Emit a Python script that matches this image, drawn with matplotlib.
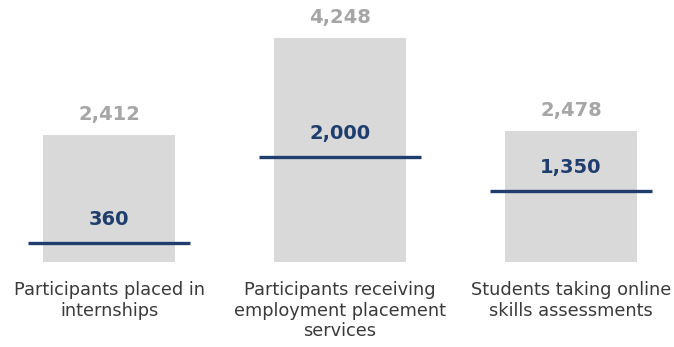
import matplotlib.pyplot as plt

# program results vs. targets
categories = ["Participants placed in\ninternships",
              "Participants receiving\nemployment placement\nservices",
              "Students taking online\nskills assessments"]
actuals = [2412, 4248, 2478]
targets = [360, 2000, 1350]

BAR_COLOR = "#d9d9d9"
LINE_COLOR = "#1f3e6e"
ACTUAL_TEXT = "#a6a6a6"
LABEL_TEXT = "#3a3a3a"

plt.rcParams['font.family'] = ['DejaVu Sans']

fig = plt.figure(figsize=(6.74, 3.47), dpi=100)
ax = fig.add_axes([0, 85 / 347, 1, 262 / 347])

x = list(range(len(categories)))
ax.bar(x, actuals, width=0.571, color=BAR_COLOR, zorder=1)
ax.hlines(targets, [i - 0.35 for i in x], [i + 0.35 for i in x],
          color=LINE_COLOR, linewidth=2.4, zorder=2)

for i, (a, t) in enumerate(zip(actuals, targets)):
    ax.annotate(f"{a:,}", (i, a), xytext=(0, 8), textcoords="offset points",
                ha="center", va="bottom", fontsize=14, fontweight="bold",
                color=ACTUAL_TEXT)
    ax.annotate(f"{t:,}", (i, t), xytext=(0, 10), textcoords="offset points",
                ha="center", va="bottom", fontsize=14, fontweight="bold",
                color=LINE_COLOR)

ax.set_xlim(-0.472, 2.446)
ax.set_ylim(0, 4971)
ax.set_xticks(x, categories, fontsize=12.8, color=LABEL_TEXT, linespacing=1.15,
              va="top")
ax.tick_params(axis="x", length=0, pad=14)
ax.set_yticks([])
for s in ax.spines.values():
    s.set_visible(False)

fig.savefig("out.png", dpi=100)
